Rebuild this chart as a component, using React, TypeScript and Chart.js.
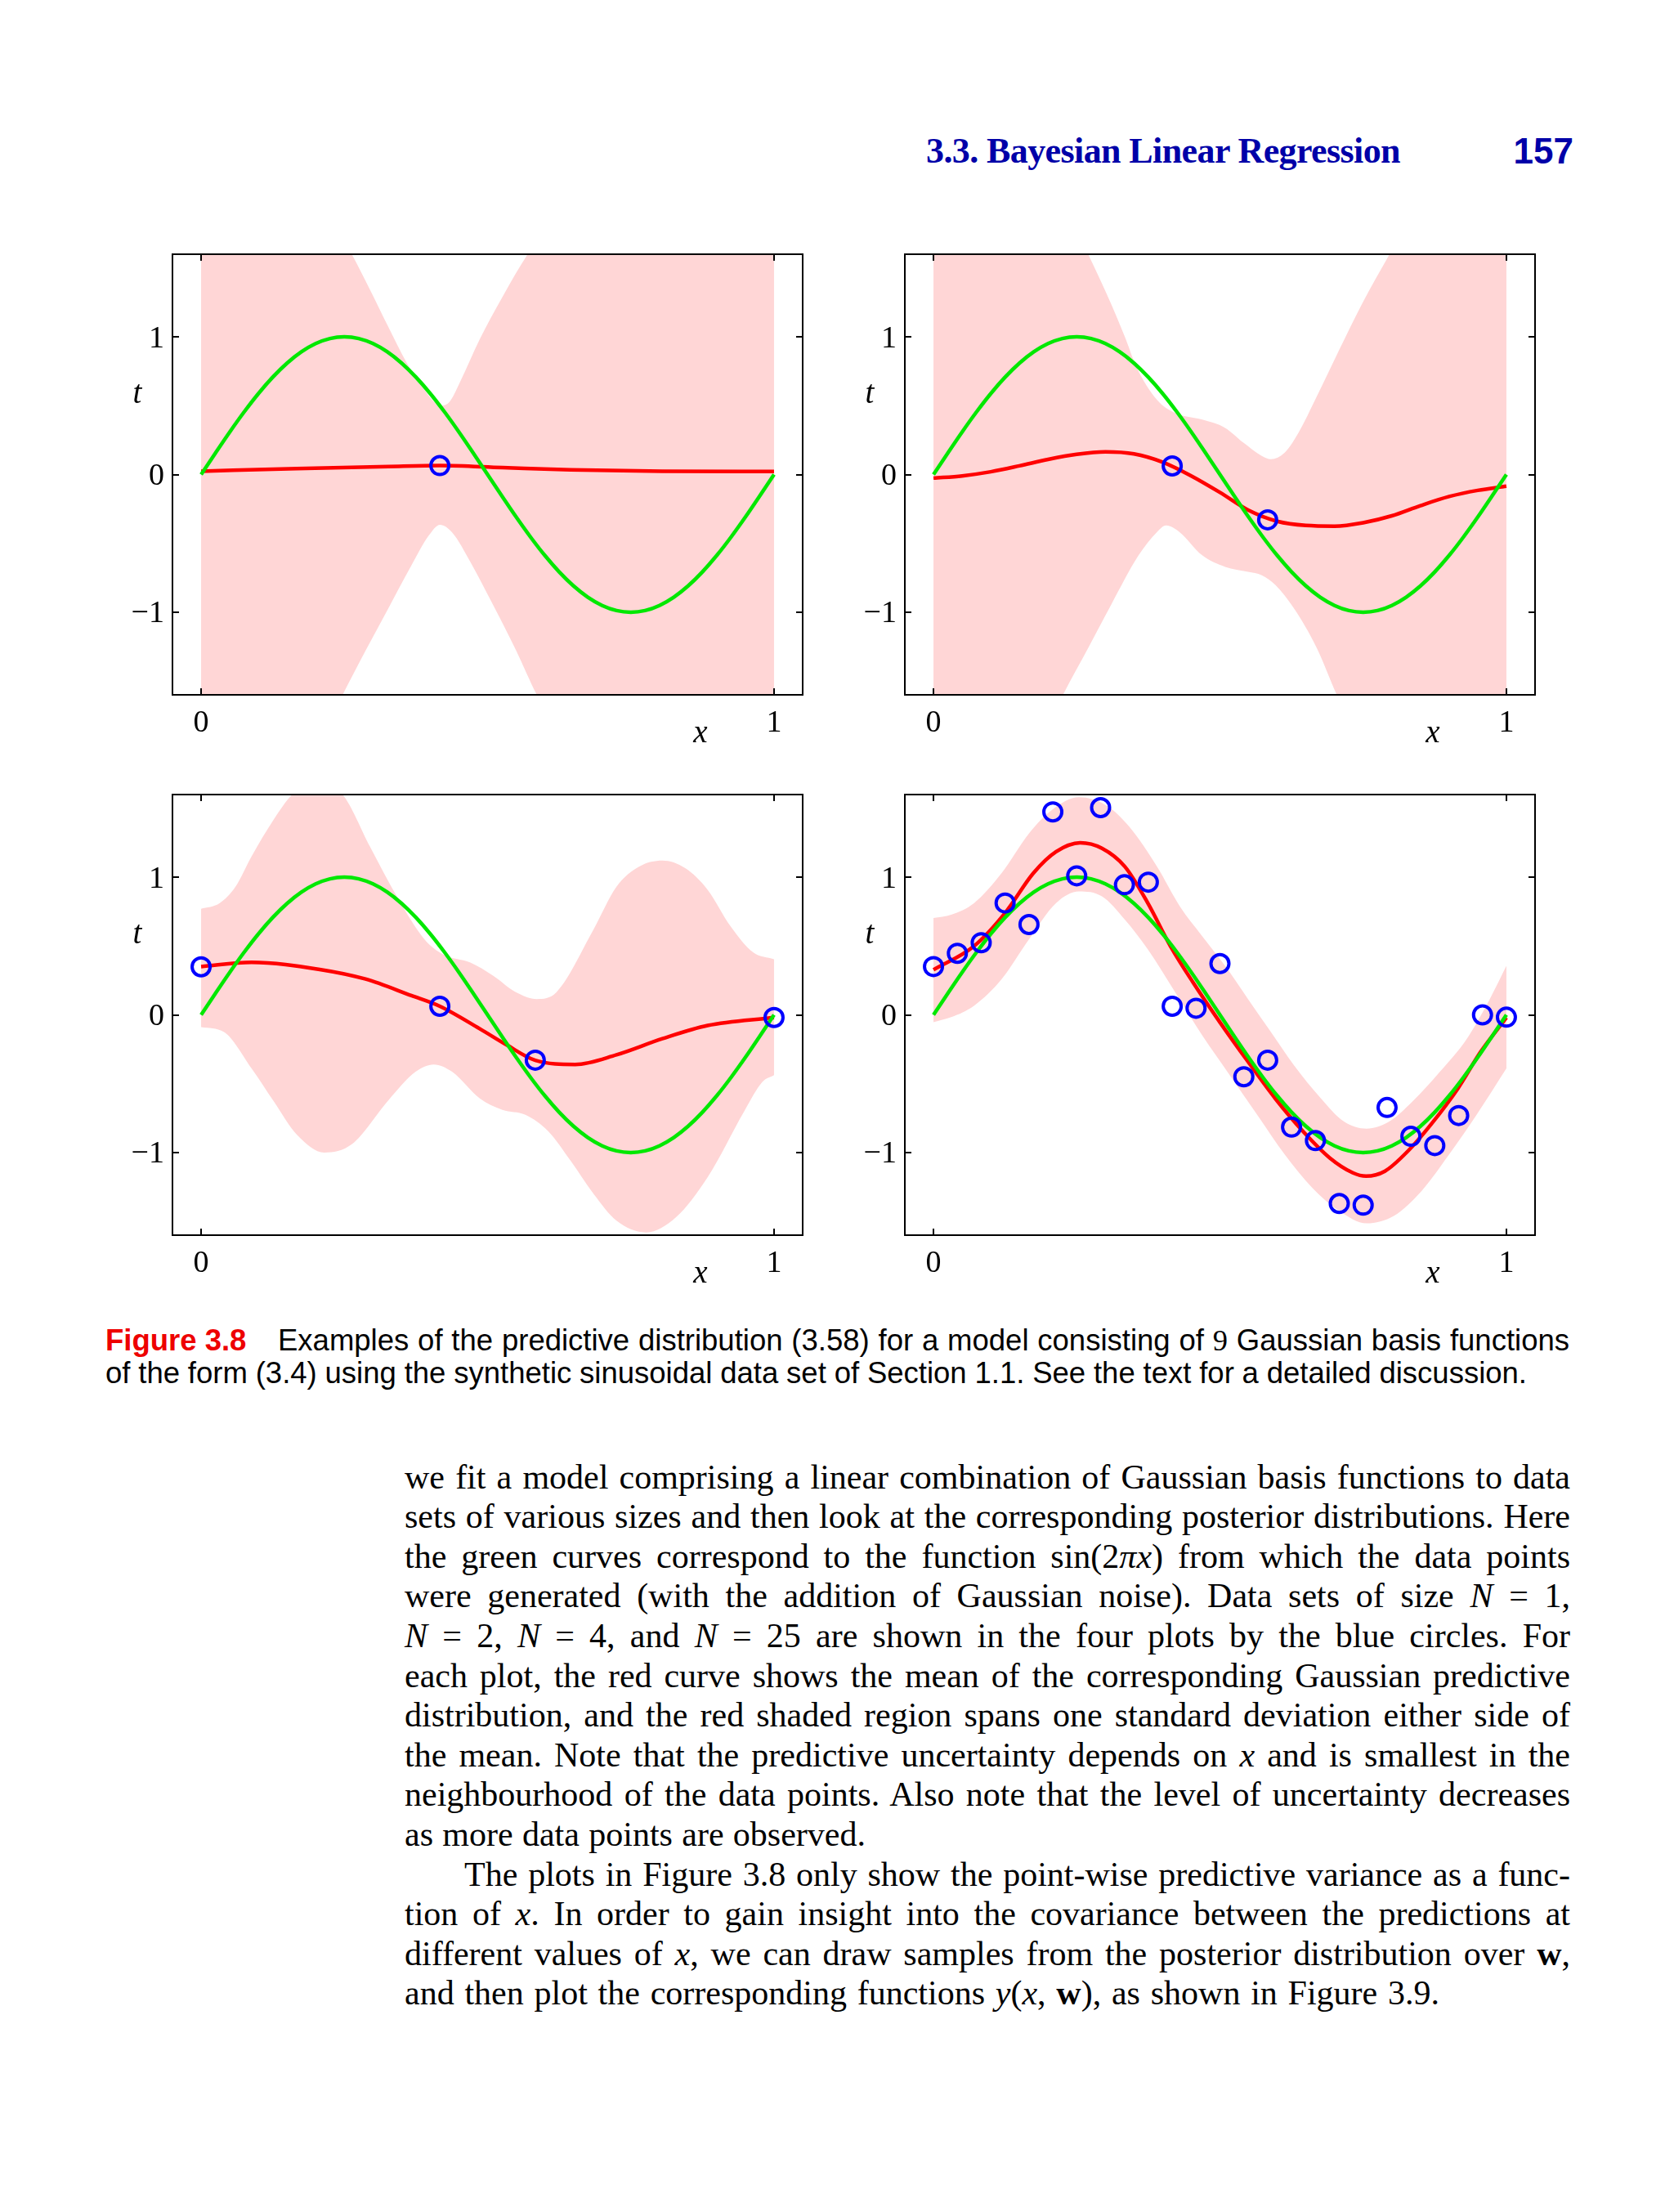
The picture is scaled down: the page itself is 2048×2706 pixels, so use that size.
import React, { useEffect, useLayoutEffect, useRef } from "react";
import { Chart, registerables } from "chart.js";

Chart.register(...registerables);

// ---------- axes ----------
const X_TICKS = [0, 1];
const X_TICK_LABELS = ["0", "1"];
const Y_TICKS = [-1, 0, 1];
const Y_TICK_LABELS = ["\u22121", "0", "1"];
const X_RANGE = [-0.05, 1.05];
const Y_RANGE = [-1.6, 1.6];

// ---------- green curve: sin(2*pi*x) ----------
const SINE_X = [0, 0.025, 0.05, 0.075, 0.1, 0.125, 0.15, 0.175, 0.2, 0.225, 0.25, 0.275, 0.3, 0.325, 0.35, 0.375, 0.4, 0.425, 0.45, 0.475, 0.5, 0.525, 0.55, 0.575, 0.6, 0.625, 0.65, 0.675, 0.7, 0.725, 0.75, 0.775, 0.8, 0.825, 0.85, 0.875, 0.9, 0.925, 0.95, 0.975, 1];
const SINE_Y = [0, 0.156, 0.309, 0.454, 0.588, 0.707, 0.809, 0.891, 0.951, 0.988, 1, 0.988, 0.951, 0.891, 0.809, 0.707, 0.588, 0.454, 0.309, 0.156, 0, -0.156, -0.309, -0.454, -0.588, -0.707, -0.809, -0.891, -0.951, -0.988, -1, -0.988, -0.951, -0.891, -0.809, -0.707, -0.588, -0.454, -0.309, -0.156, 0];

// ---------- panel 1 (N = 1) ----------
const P1_PT_X = [0.4167];
const P1_PT_Y = [0.065];
const P1_MEAN_X = [0, 0.167, 0.327, 0.417, 0.526, 0.645, 0.805, 1];
const P1_MEAN_Y = [0.024, 0.043, 0.058, 0.065, 0.05, 0.034, 0.024, 0.022];
const P1_UP_X = [0, 0.1, 0.2, 0.263, 0.295, 0.327, 0.359, 0.39, 0.406, 0.418, 0.434, 0.454, 0.486, 0.526, 0.57, 0.65, 0.8, 1];
const P1_UP_Y = [2.6, 2.5, 2.05, 1.6, 1.34, 1.07, 0.81, 0.615, 0.53, 0.5, 0.53, 0.69, 0.98, 1.29, 1.6, 2.05, 2.5, 2.6];
const P1_LO_X = [0, 0.1, 0.2, 0.247, 0.287, 0.327, 0.367, 0.398, 0.417, 0.438, 0.47, 0.51, 0.55, 0.586, 0.65, 0.8, 1];
const P1_LO_Y = [-2.6, -2.5, -2.0, -1.6, -1.28, -0.97, -0.66, -0.44, -0.365, -0.42, -0.635, -0.95, -1.28, -1.6, -2.05, -2.5, -2.6];

// ---------- panel 2 (N = 2) ----------
const P2_PT_X = [0.4167, 0.5833];
const P2_PT_Y = [0.0625, -0.329];
const P2_MEAN_X = [0, 0.05, 0.1, 0.15, 0.2, 0.25, 0.3, 0.35, 0.4, 0.45, 0.5, 0.55, 0.6, 0.65, 0.7, 0.75, 0.8, 0.85, 0.9, 0.95, 1];
const P2_MEAN_Y = [-0.026, -0.01, 0.02, 0.063, 0.11, 0.147, 0.165, 0.15, 0.09, -0.01, -0.13, -0.26, -0.34, -0.37, -0.375, -0.35, -0.3, -0.226, -0.16, -0.115, -0.085];
const P2_UP_X = [0, 0.1, 0.2, 0.27, 0.31, 0.334, 0.354, 0.39, 0.4215, 0.469, 0.509, 0.541, 0.573, 0.589, 0.613, 0.637, 0.669, 0.708, 0.748, 0.796, 0.85, 0.92, 1];
const P2_UP_Y = [2.6, 2.6, 2.2, 1.6, 1.24, 1.0, 0.784, 0.543, 0.447, 0.399, 0.339, 0.231, 0.135, 0.111, 0.159, 0.303, 0.567, 0.904, 1.24, 1.6, 2.0, 2.4, 2.6];
const P2_LO_X = [0, 0.1, 0.18, 0.226, 0.27, 0.31, 0.358, 0.39, 0.406, 0.4295, 0.469, 0.509, 0.549, 0.573, 0.597, 0.629, 0.669, 0.704, 0.76, 0.85, 1];
const P2_LO_Y = [-2.6, -2.6, -2.0, -1.6, -1.26, -0.947, -0.587, -0.418, -0.37, -0.418, -0.587, -0.671, -0.707, -0.731, -0.803, -0.971, -1.26, -1.6, -2.05, -2.5, -2.6];

// ---------- panel 3 (N = 4) ----------
const P3_PT_X = [0, 0.4167, 0.5833, 1];
const P3_PT_Y = [0.349, 0.0625, -0.329, -0.019];
const P3_MEAN_X = [0, 0.088, 0.207, 0.287, 0.367, 0.4167, 0.486, 0.534, 0.5833, 0.653, 0.725, 0.805, 0.884, 1];
const P3_MEAN_Y = [0.35, 0.382, 0.33, 0.26, 0.14, 0.0625, -0.1, -0.22, -0.33, -0.36, -0.29, -0.173, -0.077, -0.019];
const P3_UP_X = [0, 0.032, 0.06, 0.088, 0.127, 0.159, 0.2, 0.247, 0.295, 0.343, 0.39, 0.422, 0.47, 0.51, 0.55, 0.586, 0.62, 0.685, 0.725, 0.765, 0.805, 0.845, 0.884, 0.924, 0.964, 1];
const P3_UP_Y = [0.77, 0.81, 0.93, 1.15, 1.42, 1.6, 1.7, 1.6, 1.22, 0.85, 0.548, 0.44, 0.38, 0.284, 0.163, 0.115, 0.163, 0.62, 0.93, 1.077, 1.12, 1.065, 0.909, 0.644, 0.452, 0.404];
const P3_LO_X = [0, 0.04, 0.088, 0.127, 0.167, 0.215, 0.263, 0.327, 0.3745, 0.406, 0.438, 0.486, 0.526, 0.566, 0.606, 0.645, 0.685, 0.725, 0.777, 0.829, 0.884, 0.948, 0.98, 1];
const P3_LO_Y = [-0.089, -0.125, -0.389, -0.63, -0.87, -1.0, -0.94, -0.62, -0.413, -0.36, -0.413, -0.606, -0.69, -0.726, -0.846, -1.06, -1.3, -1.495, -1.58, -1.47, -1.18, -0.7, -0.486, -0.4375];

// ---------- panel 4 (N = 25) ----------
const P4_PT_X = [0, 0.0417, 0.0833, 0.125, 0.1667, 0.2083, 0.25, 0.2917, 0.3333, 0.375, 0.4167, 0.4583, 0.5, 0.5417, 0.5833, 0.625, 0.6667, 0.7083, 0.75, 0.7917, 0.8333, 0.875, 0.9167, 0.9583, 1];
const P4_PT_Y = [0.351, 0.447, 0.524, 0.8125, 0.656, 1.474, 1.01, 1.505, 0.945, 0.964, 0.0625, 0.048, 0.3726, -0.4495, -0.329, -0.815, -0.913, -1.37, -1.382, -0.673, -0.882, -0.9495, -0.731, 0.0, -0.017];
const P4_MEAN_X = [0, 0.071, 0.125, 0.1745, 0.214, 0.256, 0.294, 0.334, 0.374, 0.4135, 0.453, 0.501, 0.549, 0.597, 0.645, 0.692, 0.732, 0.755, 0.788, 0.828, 0.868, 0.9155, 0.955, 1];
const P4_MEAN_Y = [0.327, 0.5, 0.74, 1.03, 1.185, 1.25, 1.21, 1.077, 0.8125, 0.5, 0.236, -0.06, -0.34, -0.61, -0.846, -1.04, -1.147, -1.171, -1.135, -0.99, -0.798, -0.534, -0.269, -0.02];
const P4_UP_X = [0, 0.031, 0.071, 0.119, 0.1665, 0.206, 0.254, 0.302, 0.342, 0.39, 0.43, 0.469, 0.509, 0.549, 0.589, 0.629, 0.676, 0.716, 0.756, 0.796, 0.836, 0.884, 0.931, 0.971, 1];
const P4_UP_Y = [0.704, 0.728, 0.8125, 1.03, 1.317, 1.486, 1.58, 1.52, 1.365, 1.077, 0.788, 0.572, 0.356, 0.115, -0.125, -0.365, -0.606, -0.774, -0.827, -0.774, -0.63, -0.413, -0.173, 0.115, 0.356];
const P4_LO_X = [0, 0.031, 0.071, 0.119, 0.1665, 0.214, 0.254, 0.294, 0.334, 0.374, 0.422, 0.469, 0.517, 0.565, 0.613, 0.661, 0.708, 0.756, 0.804, 0.852, 0.9, 0.948, 1];
const P4_LO_Y = [-0.053, -0.017, 0.067, 0.26, 0.548, 0.8125, 0.897, 0.861, 0.692, 0.476, 0.163, -0.149, -0.4375, -0.726, -1.014, -1.255, -1.423, -1.514, -1.459, -1.279, -1.014, -0.726, -0.389];

// ---------- styles ----------
const PINK = "#FFD6D6";
const RED = "#FF0000";
const GREEN = "#00E800";
const BLUE = "#0000FF";
const SERIF = '"Liberation Serif", "Times New Roman", serif';
const SANS = '"Liberation Sans", Arial, sans-serif';

const FRAME_W = 776;
const FRAME_H = 544;
const PAD_L = 100, PAD_R = 10, PAD_T = 10, PAD_B = 80;

const zip = (xs: number[], ys: number[]) => xs.map((x, i) => ({ x, y: ys[i] }));

const framePlugin = {
  id: "matlabFrame",
  afterDraw(chart: any) {
    const { ctx, chartArea: a } = chart;
    const xs = chart.scales.x;
    const ys = chart.scales.y;
    ctx.save();
    ctx.strokeStyle = "#000";
    ctx.lineWidth = 2;
    ctx.strokeRect(a.left, a.top, a.right - a.left, a.bottom - a.top);
    ctx.beginPath();
    X_TICKS.forEach((v) => {
      const px = Math.round(xs.getPixelForValue(v));
      ctx.moveTo(px, a.bottom); ctx.lineTo(px, a.bottom - 8);
      ctx.moveTo(px, a.top); ctx.lineTo(px, a.top + 8);
    });
    Y_TICKS.forEach((v) => {
      const py = Math.round(ys.getPixelForValue(v));
      ctx.moveTo(a.left, py); ctx.lineTo(a.left + 8, py);
      ctx.moveTo(a.right, py); ctx.lineTo(a.right - 8, py);
    });
    ctx.stroke();
    ctx.fillStyle = "#000";
    ctx.font = `38px ${SERIF}`;
    ctx.textBaseline = "alphabetic";
    ctx.textAlign = "right";
    Y_TICKS.forEach((v, i) => ctx.fillText(Y_TICK_LABELS[i], a.left - 10, ys.getPixelForValue(v) + 12.5));
    ctx.textAlign = "center";
    X_TICKS.forEach((v, i) => ctx.fillText(X_TICK_LABELS[i], xs.getPixelForValue(v), a.bottom + 45));
    ctx.font = `italic 39px ${SERIF}`;
    ctx.fillText("x", a.left + 646, a.bottom + 58);
    ctx.fillText("t", a.left - 43, a.top + 182);
    ctx.restore();
  },
};

type PanelProps = {
  left: number; top: number;
  ptX: number[]; ptY: number[];
  meanX: number[]; meanY: number[];
  upX: number[]; upY: number[];
  loX: number[]; loY: number[];
};

function Panel(p: PanelProps) {
  const ref = useRef<HTMLCanvasElement>(null);
  const W = FRAME_W + PAD_L + PAD_R;
  const H = FRAME_H + PAD_T + PAD_B;
  useEffect(() => {
    const chart = new Chart(ref.current as HTMLCanvasElement, {
      type: "line",
      data: {
        datasets: [
          { data: zip(p.ptX, p.ptY), showLine: false, pointRadius: 11, pointBorderWidth: 4, pointBorderColor: BLUE, pointBackgroundColor: "rgba(0,0,0,0)", pointHoverRadius: 11, order: 0 },
          { data: zip(SINE_X, SINE_Y), borderColor: GREEN, borderWidth: 4.5, pointRadius: 0, cubicInterpolationMode: "monotone", fill: false, order: 1 },
          { data: zip(p.meanX, p.meanY), borderColor: RED, borderWidth: 4.5, pointRadius: 0, cubicInterpolationMode: "monotone", fill: false, order: 2 },
          { data: zip(p.upX, p.upY), borderColor: "rgba(0,0,0,0)", borderWidth: 0, pointRadius: 0, cubicInterpolationMode: "monotone", fill: 4, backgroundColor: PINK, order: 3 },
          { data: zip(p.loX, p.loY), borderColor: "rgba(0,0,0,0)", borderWidth: 0, pointRadius: 0, cubicInterpolationMode: "monotone", fill: false, order: 4 },
        ] as any,
      },
      options: {
        animation: false,
        responsive: false,
        devicePixelRatio: 1,
        events: [],
        layout: { padding: { left: PAD_L, right: PAD_R, top: PAD_T, bottom: PAD_B } },
        scales: {
          x: { type: "linear", min: X_RANGE[0], max: X_RANGE[1], display: false },
          y: { type: "linear", min: Y_RANGE[0], max: Y_RANGE[1], display: false },
        },
        plugins: {
          legend: { display: false },
          tooltip: { enabled: false },
          filler: { drawTime: "beforeDatasetsDraw" },
        } as any,
      },
      plugins: [framePlugin],
    });
    return () => chart.destroy();
  }, []);
  return (
    <canvas
      ref={ref}
      width={W}
      height={H}
      style={{ position: "absolute", left: p.left - PAD_L, top: p.top - PAD_T, width: W, height: H }}
    />
  );
}

// ---------- text ----------
const METRICS: Record<string, [number, number]> = { serif: [0.891, 0.216], sans: [0.905, 0.212] };

type LineProps = {
  left?: number; right?: number; baseline: number; size: number;
  family: "serif" | "sans"; weight?: string | number; color?: string;
  width?: number; mode?: "words" | "letters" | "none";
  children: React.ReactNode;
};

function TextLine({ left, right, baseline, size, family, weight, color, width, mode = "none", children }: LineProps) {
  const inner = useRef<HTMLSpanElement>(null);
  useLayoutEffect(() => {
    if (!width || mode === "none") return;
    const el = inner.current as HTMLSpanElement;
    const fit = () => {
      el.style.wordSpacing = "0px";
      el.style.letterSpacing = "0px";
      const w = el.getBoundingClientRect().width;
      const txt = el.textContent || "";
      if (mode === "words") {
        const n = (txt.match(/ /g) || []).length;
        if (n) el.style.wordSpacing = `${(width - w) / n}px`;
      } else {
        const n = txt.length;
        if (n) el.style.letterSpacing = `${(width - w) / n}px`;
      }
    };
    fit();
    if ((document as any).fonts) (document as any).fonts.ready.then(fit);
  }, []);
  const [asc, desc] = METRICS[family];
  const style: React.CSSProperties = {
    position: "absolute",
    top: baseline - asc * size,
    whiteSpace: "pre",
    fontFamily: family === "serif" ? SERIF : SANS,
    fontSize: size,
    lineHeight: `${(asc + desc) * size}px`,
    fontWeight: weight as any,
    color: color || "#000",
  };
  if (left !== undefined) style.left = left;
  if (right !== undefined) style.right = right;
  return (
    <div style={style}>
      <span ref={inner}>{children}</span>
    </div>
  );
}

const BODY_LEFT = 495;
const BODY_RIGHT = 1921;
const BODY_BASE = 1821;
const BODY_LEAD = 48.6;
const BODY_SIZE = 42;
const INDENT = 73;

const I = ({ children }: { children: React.ReactNode }) => <i>{children}</i>;
const B = ({ children }: { children: React.ReactNode }) => <b>{children}</b>;

const BODY_LINES: { content: React.ReactNode; indent?: number; width?: number }[] = [
  { content: "we fit a model comprising a linear combination of Gaussian basis functions to data" },
  { content: "sets of various sizes and then look at the corresponding posterior distributions. Here" },
  { content: <>the green curves correspond to the function sin(2<I>πx</I>) from which the data points</> },
  { content: <>were generated (with the addition of Gaussian noise). Data sets of size <I>N</I> = 1,</> },
  { content: <><I>N</I> = 2, <I>N</I> = 4, and <I>N</I> = 25 are shown in the four plots by the blue circles. For</> },
  { content: "each plot, the red curve shows the mean of the corresponding Gaussian predictive" },
  { content: "distribution, and the red shaded region spans one standard deviation either side of" },
  { content: <>the mean. Note that the predictive uncertainty depends on <I>x</I> and is smallest in the</> },
  { content: "neighbourhood of the data points. Also note that the level of uncertainty decreases" },
  { content: "as more data points are observed.", width: 564 },
  { content: "The plots in Figure 3.8 only show the point-wise predictive variance as a func-", indent: INDENT },
  { content: <>tion of <I>x</I>. In order to gain insight into the covariance between the predictions at</> },
  { content: <>different values of <I>x</I>, we can draw samples from the posterior distribution over <B>w</B>,</> },
  { content: <>and then plot the corresponding functions <I>y</I>(<I>x</I>, <B>w</B>), as shown in Figure 3.9.</>, width: 1266 },
];

export default function App() {
  useEffect(() => {
    document.body.style.margin = "0";
  }, []);
  return (
    <div style={{ position: "absolute", left: 0, top: 0, width: 2048, height: 2706, background: "#fff", overflow: "hidden" }}>
      {/* running header */}
      <TextLine left={1133} baseline={200} size={44} family="serif" weight={700} color="#0000A8" width={580} mode="letters">
        3.3. Bayesian Linear Regression
      </TextLine>
      <TextLine right={2048 - 1925} baseline={200} size={44} family="sans" weight={700} color="#0000A8">
        157
      </TextLine>

      {/* panels */}
      <Panel left={211} top={306} ptX={P1_PT_X} ptY={P1_PT_Y} meanX={P1_MEAN_X} meanY={P1_MEAN_Y} upX={P1_UP_X} upY={P1_UP_Y} loX={P1_LO_X} loY={P1_LO_Y} />
      <Panel left={1107} top={306} ptX={P2_PT_X} ptY={P2_PT_Y} meanX={P2_MEAN_X} meanY={P2_MEAN_Y} upX={P2_UP_X} upY={P2_UP_Y} loX={P2_LO_X} loY={P2_LO_Y} />
      <Panel left={211} top={967} ptX={P3_PT_X} ptY={P3_PT_Y} meanX={P3_MEAN_X} meanY={P3_MEAN_Y} upX={P3_UP_X} upY={P3_UP_Y} loX={P3_LO_X} loY={P3_LO_Y} />
      <Panel left={1107} top={967} ptX={P4_PT_X} ptY={P4_PT_Y} meanX={P4_MEAN_X} meanY={P4_MEAN_Y} upX={P4_UP_X} upY={P4_UP_Y} loX={P4_LO_X} loY={P4_LO_Y} />

      {/* caption */}
      <TextLine left={129} baseline={1653} size={36.5} family="sans" weight={700} color="#EE0000">
        Figure 3.8
      </TextLine>
      <TextLine left={340} baseline={1653} size={36.5} family="sans" width={1920 - 340} mode="words">
        <>Examples of the predictive distribution (3.58) for a model consisting of <span style={{ fontFamily: SERIF }}>9</span> Gaussian basis functions</>
      </TextLine>
      <TextLine left={129} baseline={1693} size={36.5} family="sans" width={1739} mode="words">
        of the form (3.4) using the synthetic sinusoidal data set of Section 1.1. See the text for a detailed discussion.
      </TextLine>

      {/* body text */}
      {BODY_LINES.map((ln, i) => (
        <TextLine
          key={i}
          left={BODY_LEFT + (ln.indent || 0)}
          baseline={BODY_BASE + i * BODY_LEAD}
          size={BODY_SIZE}
          family="serif"
          width={ln.width || BODY_RIGHT - BODY_LEFT - (ln.indent || 0)}
          mode="words"
        >
          {ln.content}
        </TextLine>
      ))}
    </div>
  );
}
